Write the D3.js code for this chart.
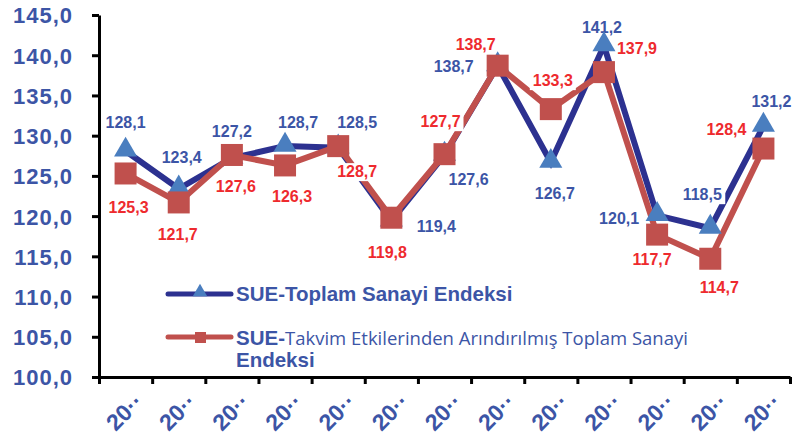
<!DOCTYPE html>
<html>
<head>
<meta charset="utf-8">
<script src="https://cdn.jsdelivr.net/npm/d3@7"></script>
<style>
  body { margin: 0; background: #fff; }
  svg { display: block; }
</style>
</head>
<body>
<script>
// Chart data.
var tickLabels = ["20··", "20··", "20··", "20··", "20··", "20··", "20··",
                  "20··", "20··", "20··", "20··", "20··", "20··"];
var toplamValues = [128.1, 123.4, 127.2, 128.7, 128.5, 119.4, 127.6,
                    138.7, 126.7, 141.2, 120.1, 118.5, 131.2];
var takvimValues = [125.3, 121.7, 127.6, 126.3, 128.7, 119.8, 127.7,
                    138.7, 133.3, 137.9, 117.7, 114.7, 128.4];
var yTicks = [100, 105, 110, 115, 120, 125, 130, 135, 140, 145];

// Where each data label sits relative to its point (dx, dy to the baseline centre).
var toplamLabelPos = [[0, -23], [3, -26], [0, -21], [13, -18], [19, -20], [45, 11], [24, 30],
                      [-44, 6], [4, 37], [-2, -13], [-38, 9], [-8, -28], [8, -19]];
var takvimLabelPos = [[3, 40], [-1, 38], [4, 37], [7, 37], [19, 31], [-4, 40], [-4, -27],
                      [-22, -16], [2, -23], [33, -18], [-5, 30], [9, 34], [-37, -14]];

var width = 795;
var height = 438;

var blueLine = "#2c3190";
var blueMarker = "#4a7ebf";
var redLine = "#c0504d";
var blueText = "#3c55a6";
var redText = "#ee2a2e";

var x0 = 99, x1 = 790, yBottom = 377, yTop = 15;

var xScale = d3.scaleBand()
               .domain(d3.range(toplamValues.length))
               .range([x0, x1]);

var xEdge = d3.scaleLinear()
              .domain([0, toplamValues.length])
              .range([x0, x1]);

var yScale = d3.scaleLinear()
               .domain([100, 145])
               .range([yBottom, yTop]);

var cx = function (i) { return xScale(i) + xScale.bandwidth() / 2; };
var fmt = function (v) { return d3.format(".1f")(v).replace(".", ","); };

var svg = d3.select("body").append("svg")
            .attr("width", width)
            .attr("height", height)
            .style("font-family", "'Liberation Sans', Arial, sans-serif");

// Y axis.
var yAxis = svg.append("g")
   .attr("transform", "translate(" + x0 + ",0)")
   .call(d3.axisLeft(yScale).tickValues(yTicks).tickSize(7).tickSizeOuter(0).tickFormat(fmt));
yAxis.select(".domain").attr("stroke", "#000").attr("stroke-width", 3);
yAxis.selectAll(".tick line").attr("stroke", "#000").attr("stroke-width", 3);
yAxis.selectAll(".tick text")
     .attr("x", -26)
     .attr("dy", "0.36em")
     .attr("fill", blueText)
     .style("font-size", "22px")
     .style("letter-spacing", "1px")
     .style("font-weight", "bold");

// X axis: ticks at the category edges.
var xAxis = svg.append("g")
   .attr("transform", "translate(0," + yBottom + ")")
   .call(d3.axisBottom(xEdge).tickValues(d3.range(toplamValues.length + 1)).tickSize(7).tickSizeOuter(0).tickFormat(""));
xAxis.select(".domain").attr("stroke", "#000").attr("stroke-width", 3);
xAxis.selectAll(".tick line").attr("stroke", "#000").attr("stroke-width", 3);

// Rotated category labels.
svg.append("g").selectAll("text")
   .data(tickLabels)
   .enter().append("text")
   .attr("transform", function (d, i) { return "translate(" + (cx(i) + 19) + "," + 403 + ") rotate(-45)"; })
   .attr("text-anchor", "end")
   .attr("fill", blueText)
   .style("font-size", "23px")
   .style("font-weight", "bold")
   .text(function (d) { return d; });

// Lines.
var line = d3.line()
             .x(function (d, i) { return cx(i); })
             .y(function (d) { return yScale(d); });

svg.append("path")
   .datum(toplamValues)
   .attr("fill", "none")
   .attr("stroke", blueLine)
   .attr("stroke-width", 6)
   .attr("d", line);

svg.append("path")
   .datum(takvimValues)
   .attr("fill", "none")
   .attr("stroke", redLine)
   .attr("stroke-width", 6)
   .attr("d", line);

// Data labels with white boxes, drawn over the lines.
function addLabels (values, pos) {
    var g = svg.append("g");
    var labels = g.selectAll("g")
                  .data(values)
                  .enter().append("g")
                  .attr("transform", function (d, i) {
                      return "translate(" + (cx(i) + pos[i][0]) + "," + (yScale(d) + pos[i][1]) + ")";
                  });
    labels.append("rect")
          .attr("x", -23)
          .attr("y", -14)
          .attr("width", 46)
          .attr("height", 18)
          .attr("fill", "#fff");
    return labels;
}

var toplamLabels = addLabels(toplamValues, toplamLabelPos);
var takvimLabels = addLabels(takvimValues, takvimLabelPos);

// Markers.
var triangle = d3.symbol().type(d3.symbolTriangle).size(230);
svg.append("g").selectAll("path")
   .data(toplamValues)
   .enter().append("path")
   .attr("transform", function (d, i) { return "translate(" + cx(i) + "," + (yScale(d) - 1) + ")"; })
   .attr("d", triangle)
   .attr("fill", blueMarker);

svg.append("g").selectAll("rect")
   .data(takvimValues)
   .enter().append("rect")
   .attr("x", function (d, i) { return cx(i) - 11; })
   .attr("y", function (d) { return yScale(d) - 11; })
   .attr("width", 22)
   .attr("height", 22)
   .attr("fill", redLine);

// Label texts on top.
function labelText (labels, color) {
    labels.append("text")
          .attr("text-anchor", "middle")
          .attr("fill", color)
          .style("font-size", "16px")
          .style("font-weight", "bold")
          .text(fmt);
}
labelText(toplamLabels, blueText);
labelText(takvimLabels, redText);

// Legend.
var legend = svg.append("g");
legend.append("line")
      .attr("x1", 168).attr("x2", 231).attr("y1", 294).attr("y2", 294)
      .attr("stroke", blueLine).attr("stroke-width", 5).attr("stroke-linecap", "round");
legend.append("path")
      .attr("transform", "translate(200,292)")
      .attr("d", d3.symbol().type(d3.symbolTriangle).size(90))
      .attr("fill", blueMarker);
legend.append("text")
      .attr("x", 236).attr("y", 301)
      .attr("fill", blueText)
      .style("font-size", "20.5px")
      .style("font-weight", "bold")
      .text("SUE-Toplam Sanayi Endeksi");

legend.append("line")
      .attr("x1", 168).attr("x2", 231).attr("y1", 337).attr("y2", 337)
      .attr("stroke", redLine).attr("stroke-width", 5).attr("stroke-linecap", "round");
legend.append("rect")
      .attr("x", 195).attr("y", 332).attr("width", 11).attr("height", 11)
      .attr("fill", redLine);
var t2 = legend.append("text")
      .attr("x", 236).attr("y", 345)
      .attr("fill", blueText)
      .style("font-size", "20.5px");
t2.append("tspan").style("font-weight", "bold").text("SUE-");
t2.append("tspan")
  .style("font-family", "'Open Sans', sans-serif")
  .style("font-size", "18.5px")
  .text("Takvim Etkilerinden Arındırılmış Toplam Sanayi");
legend.append("text")
      .attr("x", 236).attr("y", 367)
      .attr("fill", blueText)
      .style("font-size", "20.5px")
      .style("font-weight", "bold")
      .text("Endeksi");
</script>
</body>
</html>
